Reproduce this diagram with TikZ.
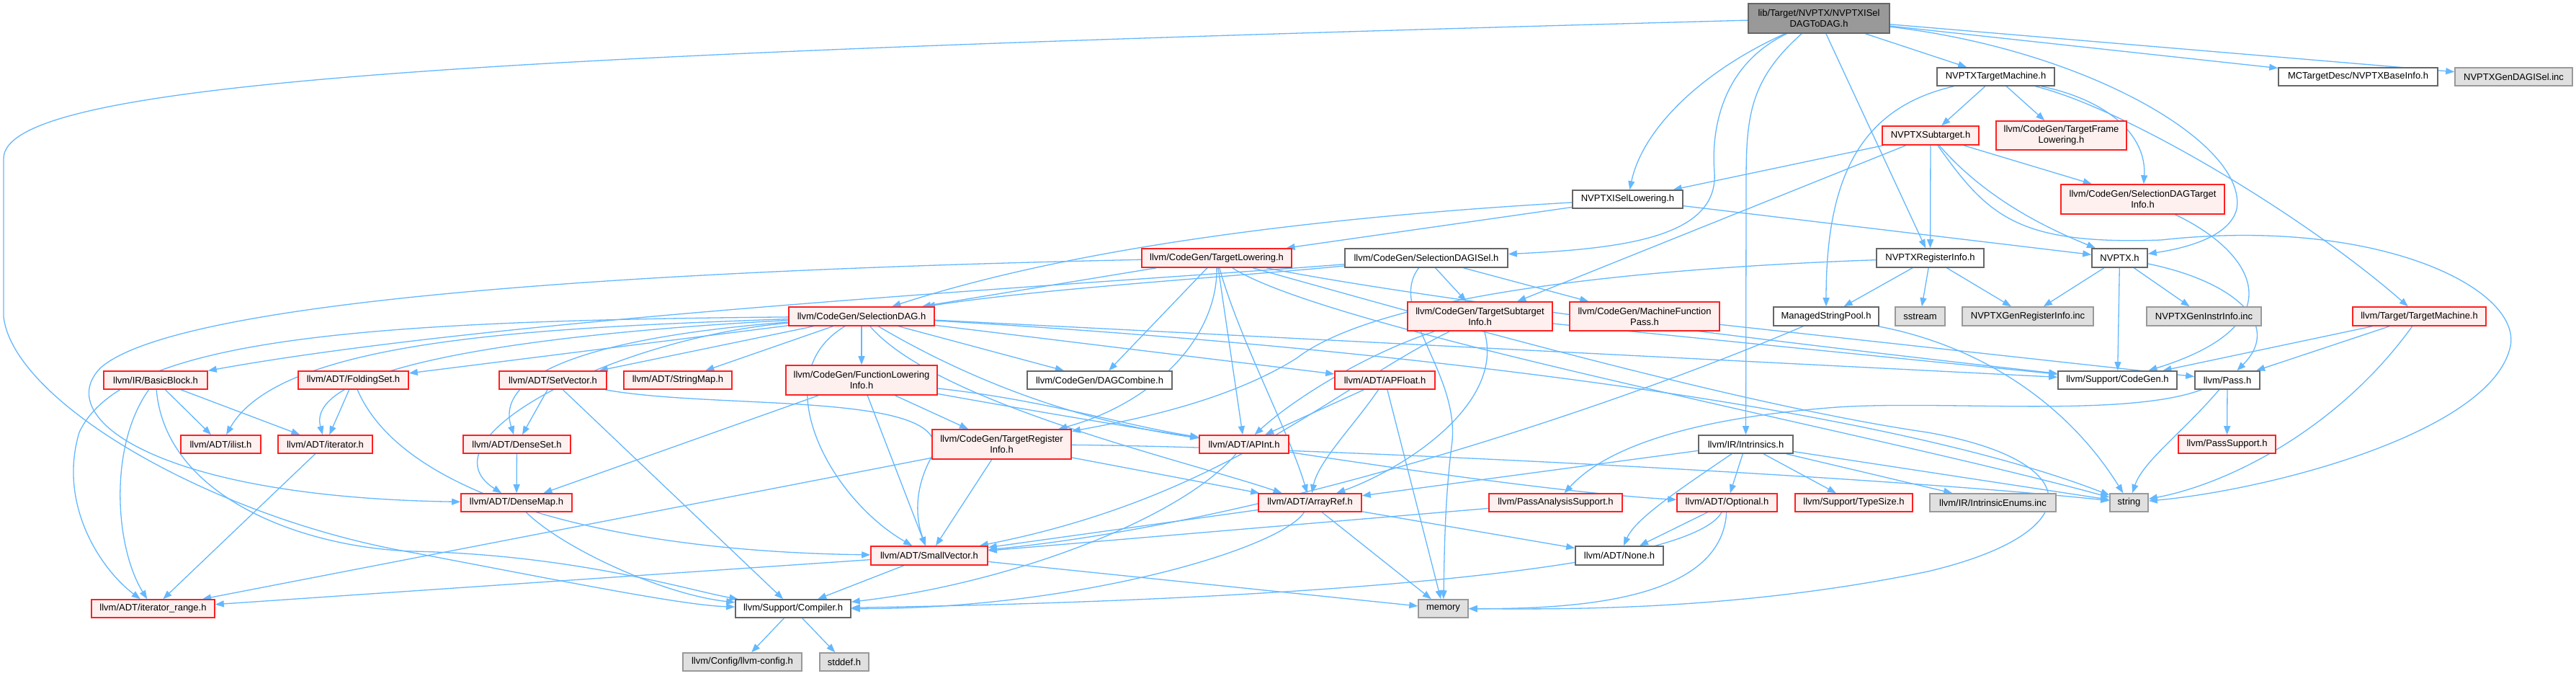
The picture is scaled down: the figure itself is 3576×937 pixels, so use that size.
\documentclass[tikz,border=0pt]{standalone}
\usepackage{fontspec}
\setmainfont{Liberation Sans}
\usetikzlibrary{arrows.meta}
\pgfdeclarelayer{back}
\pgfdeclarelayer{edges}
\pgfsetlayers{back,edges,main}
\definecolor{edgec}{HTML}{63B8FF}
\definecolor{nodered}{HTML}{FF2020}
\definecolor{nodepink}{HTML}{FFF0F0}
\definecolor{nodegray}{HTML}{666666}
\definecolor{extgray}{HTML}{999999}
\definecolor{extfill}{HTML}{E0E0E0}
\definecolor{rootfill}{HTML}{999999}
\begin{document}
\begin{tikzpicture}[x=1pt,y=-1pt,
  base/.style={line width=1.6pt, inner sep=0pt, align=center, font=\fontsize{13}{15}\selectfont, text=black},
  wn/.style={base, draw=nodegray, fill=white},
  rn/.style={base, draw=nodered, fill=nodepink},
  gn/.style={base, draw=extgray, fill=extfill},
  rootn/.style={base, draw=nodegray, fill=rootfill},
  edge/.style={draw=edgec, line width=1.3pt, -{Triangle[length=12pt,width=9pt]}}]
\begin{pgfonlayer}{back}
\fill[white] (0,0) rectangle (3576,937);
\end{pgfonlayer}
\useasboundingbox (0,0) rectangle (3576,937);

% nodes
\node[rootn, minimum width=196pt, minimum height=41pt] (root) at (2525,25.5) {lib/Target/NVPTX/NVPTXISel\\DAGToDAG.h};
\node[wn, minimum width=221pt, minimum height=25pt] (mctd) at (3273.5,106.5) {MCTargetDesc/NVPTXBaseInfo.h};
\node[gn, minimum width=163pt, minimum height=25pt] (gendag) at (3489.5,106.5) {NVPTXGenDAGISel.inc};
\node[wn, minimum width=163pt, minimum height=25pt] (tm) at (2770.5,106.5) {NVPTXTargetMachine.h};
\node[rn, minimum width=134pt, minimum height=26pt] (st) at (2680,188) {NVPTXSubtarget.h};
\node[rn, minimum width=181pt, minimum height=40pt] (tfl) at (2861.5,188) {llvm/CodeGen/TargetFrame\\Lowering.h};
\node[rn, minimum width=227pt, minimum height=41pt] (sdti) at (2974.5,276.5) {llvm/CodeGen/SelectionDAGTarget\\Info.h};
\node[wn, minimum width=153pt, minimum height=25pt] (isl) at (2259.5,276.5) {NVPTXISelLowering.h};
\node[wn, minimum width=226pt, minimum height=26pt] (sdisel) at (1980,358) {llvm/CodeGen/SelectionDAGISel.h};
\node[rn, minimum width=208pt, minimum height=26pt] (tl) at (1689,358) {llvm/CodeGen/TargetLowering.h};
\node[wn, minimum width=149pt, minimum height=26pt] (ri) at (2679.5,358) {NVPTXRegisterInfo.h};
\node[wn, minimum width=77pt, minimum height=26pt] (nvptx) at (2942.5,358) {NVPTX.h};
\node[rn, minimum width=202pt, minimum height=26pt] (sd) at (1196,439) {llvm/CodeGen/SelectionDAG.h};
\node[rn, minimum width=201pt, minimum height=40pt] (tsi) at (2054.5,439) {llvm/CodeGen/TargetSubtarget\\Info.h};
\node[rn, minimum width=208pt, minimum height=40pt] (mfp) at (2283,439) {llvm/CodeGen/MachineFunction\\Pass.h};
\node[wn, minimum width=146pt, minimum height=26pt] (msp) at (2535,439) {ManagedStringPool.h};
\node[gn, minimum width=69pt, minimum height=26pt] (sstream) at (2665.5,439) {sstream};
\node[gn, minimum width=182pt, minimum height=26pt] (genreg) at (2815,439) {NVPTXGenRegisterInfo.inc};
\node[gn, minimum width=159pt, minimum height=26pt] (geninstr) at (3059.5,439) {NVPTXGenInstrInfo.inc};
\node[rn, minimum width=185pt, minimum height=26pt] (ttm) at (3358.5,439) {llvm/Target/TargetMachine.h};
\node[rn, minimum width=144pt, minimum height=25pt] (bb) at (216,527.5) {llvm/IR/BasicBlock.h};
\node[rn, minimum width=153pt, minimum height=25pt] (folding) at (490.5,527.5) {llvm/ADT/FoldingSet.h};
\node[rn, minimum width=149pt, minimum height=25pt] (setvec) at (767.5,527.5) {llvm/ADT/SetVector.h};
\node[rn, minimum width=150pt, minimum height=25pt] (strmap) at (941,527.5) {llvm/ADT/StringMap.h};
\node[rn, minimum width=210pt, minimum height=41pt] (fli) at (1196,527.5) {llvm/CodeGen/FunctionLowering\\Info.h};
\node[wn, minimum width=201pt, minimum height=25pt] (dagc) at (1526.5,527.5) {llvm/CodeGen/DAGCombine.h};
\node[rn, minimum width=139pt, minimum height=25pt] (apfloat) at (1922.5,527.5) {llvm/ADT/APFloat.h};
\node[wn, minimum width=165pt, minimum height=25pt] (codegen) at (2939.5,527.5) {llvm/Support/CodeGen.h};
\node[wn, minimum width=90pt, minimum height=25pt] (pass) at (3092,527.5) {llvm/Pass.h};
\node[rn, minimum width=111pt, minimum height=25pt] (ilist) at (306.5,616.5) {llvm/ADT/ilist.h};
\node[rn, minimum width=131pt, minimum height=25pt] (iter) at (451.5,616.5) {llvm/ADT/iterator.h};
\node[rn, minimum width=149pt, minimum height=25pt] (denseset) at (717.5,616.5) {llvm/ADT/DenseSet.h};
\node[rn, minimum width=193pt, minimum height=41pt] (tri) at (1390.5,616.5) {llvm/CodeGen/TargetRegister\\Info.h};
\node[rn, minimum width=124pt, minimum height=25pt] (apint) at (1727,616.5) {llvm/ADT/APInt.h};
\node[wn, minimum width=131pt, minimum height=25pt] (intr) at (2423.5,616.5) {llvm/IR/Intrinsics.h};
\node[rn, minimum width=135pt, minimum height=25pt] (passsup) at (3091.5,616.5) {llvm/PassSupport.h};
\node[rn, minimum width=154pt, minimum height=25pt] (densemap) at (717,697.5) {llvm/ADT/DenseMap.h};
\node[rn, minimum width=143pt, minimum height=25pt] (arrayref) at (1818.5,697.5) {llvm/ADT/ArrayRef.h};
\node[rn, minimum width=185pt, minimum height=25pt] (pas) at (2159.5,697.5) {llvm/PassAnalysisSupport.h};
\node[rn, minimum width=139pt, minimum height=25pt] (optional) at (2397.5,697.5) {llvm/ADT/Optional.h};
\node[rn, minimum width=163pt, minimum height=25pt] (typesize) at (2573.5,697.5) {llvm/Support/TypeSize.h};
\node[gn, minimum width=175pt, minimum height=25pt] (ienums) at (2766.5,697.5) {llvm/IR/IntrinsicEnums.inc};
\node[gn, minimum width=53pt, minimum height=25pt] (string) at (2955.5,697.5) {string};
\node[rn, minimum width=162pt, minimum height=26pt] (smallvec) at (1290,771) {llvm/ADT/SmallVector.h};
\node[wn, minimum width=122pt, minimum height=26pt] (none) at (2248,771) {llvm/ADT/None.h};
\node[rn, minimum width=171pt, minimum height=25pt] (itrange) at (212.5,844.5) {llvm/ADT/iterator\_range.h};
\node[wn, minimum width=160pt, minimum height=25pt] (compiler) at (1101,844.5) {llvm/Support/Compiler.h};
\node[gn, minimum width=69pt, minimum height=25pt] (memory) at (2003.5,844.5) {memory};
\node[gn, minimum width=165pt, minimum height=25pt] (llvmcfg) at (1030.5,918.5) {llvm/Config/llvm-config.h};
\node[gn, minimum width=68pt, minimum height=25pt] (stddef) at (1172,918.5) {stddef.h};

% ---------- edges ----------
\begin{pgfonlayer}{edges}
% root
\draw[edge] (root) .. controls (700,75) and (5,110) .. (5,220) -- (5,440) .. controls (20,560) and (300,720) .. (574,767) .. controls (800,810) and (950,840) .. (compiler);
\draw[edge] (root) .. controls (2360,100) and (2280,180) .. (isl);
\draw[edge] (root) .. controls (2390,90) and (2375,180) .. (2380,240) .. controls (2385,330) and (2250,345) .. (sdisel);
\draw[edge] (root) .. controls (2430,110) and (2424,160) .. (2424,250) -- (intr);
\draw[edge] (root) -- (ri);
\draw[edge] (root) -- (tm);
\draw[edge] (root) .. controls (2900,70) and (3120,200) .. (3105,290) .. controls (3095,330) and (3030,345) .. (nvptx);
\draw[edge] (root) -- (mctd);
\draw[edge] (root) -- (gendag);
% NVPTXTargetMachine
\draw[edge] (tm) -- (st);
\draw[edge] (tm) -- (tfl);
\draw[edge] (tm) .. controls (2930,140) and (2980,190) .. (sdti);
\draw[edge] (tm) .. controls (2950,150) and (3200,300) .. (ttm);
\draw[edge] (tm) .. controls (2580,150) and (2535,250) .. (msp);
% NVPTXSubtarget
\draw[edge] (st) -- (isl);
\draw[edge] (st) -- (tsi);
\draw[edge] (st) -- (ri);
\draw[edge] (st) .. controls (2760,280) and (2850,320) .. (nvptx);
\draw[edge] (st) -- (sdti);
\draw[edge] (st) .. controls (2760,300) and (2800,340) .. (3000,333) .. controls (3300,300) and (3500,400) .. (3485,480) .. controls (3460,600) and (3150,680) .. (string);
% SelectionDAGTargetInfo
\draw[edge] (sdti) .. controls (3130,350) and (3190,450) .. (codegen);
% NVPTX.h
\draw[edge] (nvptx) -- (genreg);
\draw[edge] (nvptx) -- (geninstr);
\draw[edge] (nvptx) -- (codegen);
\draw[edge] (nvptx) .. controls (3100,390) and (3170,450) .. (pass);
% Target/TargetMachine
\draw[edge] (ttm) -- (codegen);
\draw[edge] (ttm) -- (pass);
\draw[edge] (ttm) .. controls (3250,590) and (3100,670) .. (string);
% Pass
\draw[edge] (pass) -- (passsup);
\draw[edge] (pass) .. controls (3030,600) and (2975,640) .. (string);
\draw[edge] (pass) .. controls (2950,580) and (2700,555) .. (2550,565) .. controls (2350,580) and (2230,620) .. (pas);
% NVPTXRegisterInfo
\draw[edge] (ri) -- (msp);
\draw[edge] (ri) -- (sstream);
\draw[edge] (ri) -- (genreg);
\draw[edge] (ri) .. controls (2200,375) and (1900,420) .. (1800,497) .. controls (1700,560) and (1560,585) .. (tri);
% ManagedStringPool
\draw[edge] (msp) .. controls (2300,540) and (1800,720) .. (smallvec);
\draw[edge] (msp) .. controls (2750,480) and (2870,560) .. (string);
% ISelLowering
\draw[edge] (isl) .. controls (1850,300) and (1500,340) .. (sd);
\draw[edge] (isl) -- (tl);
\draw[edge] (isl) -- (nvptx);
% TargetLowering
\draw[edge] (tl) -- (sd);
\draw[edge] (tl) .. controls (900,375) and (250,415) .. (140,510) .. controls (70,580) and (220,690) .. (densemap);
\draw[edge] (tl) -- (dagc);
\draw[edge] (tl) -- (apint);
\draw[edge] (tl) .. controls (1690,470) and (1600,560) .. (tri);
\draw[edge] (tl) .. controls (1720,470) and (1790,600) .. (arrayref);
\draw[edge] (tl) .. controls (1850,460) and (2600,600) .. (string);
\draw[edge] (tl) .. controls (2000,420) and (2600,490) .. (codegen);
\draw[edge] (tl) .. controls (1950,430) and (2400,560) .. (2676,600) .. controls (2900,640) and (2900,740) .. (2676,793) .. controls (2400,850) and (2150,845) .. (memory);
% SelectionDAGISel
\draw[edge] (sdisel) .. controls (1700,385) and (1450,400) .. (sd);
\draw[edge] (sdisel) .. controls (1500,395) and (700,440) .. (bb);
\draw[edge] (sdisel) -- (tsi);
\draw[edge] (sdisel) -- (mfp);
\draw[edge] (sdisel) .. controls (1925,430) and (2030,520) .. (2015,620) .. controls (2005,700) and (2005,780) .. (memory);
% TargetSubtargetInfo
\draw[edge] (tsi) .. controls (1900,490) and (1800,550) .. (apint);
\draw[edge] (tsi) .. controls (2090,560) and (1950,650) .. (arrayref);
\draw[edge] (tsi) .. controls (1850,540) and (1700,690) .. (smallvec);
\draw[edge] (tsi) -- (codegen);
% MachineFunctionPass
\draw[edge] (mfp) -- (pass);
% SelectionDAG
\draw[edge] (sd) -- (folding);
\draw[edge] (sd) -- (setvec);
\draw[edge] (sd) -- (strmap);
\draw[edge] (sd) .. controls (750,455) and (390,470) .. (ilist);
\draw[edge] (sd) .. controls (800,460) and (420,500) .. (iter);
\draw[edge] (sd) .. controls (900,462) and (680,500) .. (denseset);
\draw[edge] (sd) .. controls (850,470) and (580,610) .. (densemap);
\draw[edge] (sd) .. controls (500,445) and (170,470) .. (110,600) .. controls (80,700) and (140,790) .. (itrange);
\draw[edge] (sd) .. controls (1060,520) and (1150,690) .. (smallvec);
\draw[edge] (sd) -- (fli);
\draw[edge] (sd) -- (dagc);
\draw[edge] (sd) .. controls (1350,530) and (1500,585) .. (apint);
\draw[edge] (sd) .. controls (1300,560) and (1650,640) .. (arrayref);
\draw[edge] (sd) -- (apfloat);
\draw[edge] (sd) -- (codegen);
\draw[edge] (sd) .. controls (1900,480) and (2600,560) .. (string);
% FunctionLoweringInfo
\draw[edge] (fli) -- (densemap);
\draw[edge] (fli) -- (smallvec);
\draw[edge] (fli) -- (tri);
\draw[edge] (fli) .. controls (1450,555) and (1560,590) .. (apint);
\draw[edge] (fli) .. controls (1600,600) and (2100,680) .. (optional);
% TargetRegisterInfo
\draw[edge] (tri) -- (smallvec);
\draw[edge] (tri) -- (itrange);
\draw[edge] (tri) -- (arrayref);
\draw[edge] (tri) .. controls (1800,620) and (2600,660) .. (string);
% BasicBlock
\draw[edge] (bb) -- (ilist);
\draw[edge] (bb) -- (iter);
\draw[edge] (bb) .. controls (150,620) and (160,760) .. (itrange);
\draw[edge] (bb) .. controls (230,690) and (420,760) .. (574,765) .. controls (800,770) and (960,820) .. (compiler);
% FoldingSet
\draw[edge] (folding) -- (iter);
\draw[edge] (folding) .. controls (560,690) and (850,765) .. (smallvec);
% SetVector
\draw[edge] (setvec) -- (denseset);
\draw[edge] (setvec) -- (compiler);
\draw[edge] (setvec) .. controls (1000,570) and (1350,540) .. (1290,640) .. controls (1265,690) and (1275,730) .. (smallvec);
% DenseSet / DenseMap / iterator
\draw[edge] (denseset) -- (densemap);
\draw[edge] (densemap) .. controls (780,760) and (920,825) .. (compiler);
\draw[edge] (iter) -- (itrange);
% SmallVector
\draw[edge] (smallvec) -- (compiler);
\draw[edge] (smallvec) -- (itrange);
\draw[edge] (smallvec) -- (memory);
% APInt
\draw[edge] (apint) .. controls (1640,720) and (1400,810) .. (compiler);
% ArrayRef
\draw[edge] (arrayref) -- (smallvec);
\draw[edge] (arrayref) -- (none);
\draw[edge] (arrayref) -- (memory);
\draw[edge] (arrayref) .. controls (1780,760) and (1500,845) .. (compiler);
% APFloat
\draw[edge] (apfloat) -- (apint);
\draw[edge] (apfloat) .. controls (1880,590) and (1830,640) .. (arrayref);
\draw[edge] (apfloat) -- (memory);
% Intrinsics
\draw[edge] (intr) -- (arrayref);
\draw[edge] (intr) .. controls (2330,680) and (2270,720) .. (none);
\draw[edge] (intr) -- (optional);
\draw[edge] (intr) -- (typesize);
\draw[edge] (intr) -- (ienums);
\draw[edge] (intr) -- (string);
% Optional
\draw[edge] (optional) -- (none);
\draw[edge] (optional) .. controls (2340,800) and (1700,835) .. (compiler);
\draw[edge] (optional) .. controls (2390,830) and (2200,845) .. (memory);
% PassAnalysisSupport
\draw[edge] (pas) -- (smallvec);
% Compiler
\draw[edge] (compiler) -- (llvmcfg);
\draw[edge] (compiler) -- (stddef);
\end{pgfonlayer}
\end{tikzpicture}
\end{document}
